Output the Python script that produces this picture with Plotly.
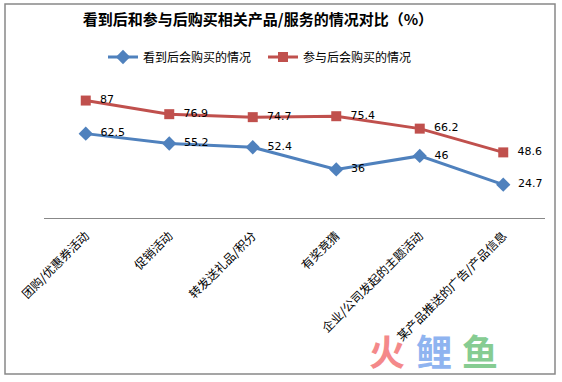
import plotly.graph_objects as go

categories = ["团购/优惠券活动", "促销活动", "转发送礼品/积分", "有奖竞猜",
              "企业/公司发起的主题活动", "某产品推送的广告/产品信息"]
seen_values = [62.5, 55.2, 52.4, 36, 46, 24.7]
joined_values = [87, 76.9, 74.7, 75.4, 66.2, 48.6]
series_names = ["看到后会购买的情况", "参与后会购买的情况"]
title_text = "看到后和参与后购买相关产品/服务的情况对比（%）"

W, H = 562, 382
L, R, T, B = 44, 545, 83, 218  # plot area pixel bounds
PAD = "\u00a0\u00a0"

fig = go.Figure()
fig.add_trace(go.Scatter(
    x=categories, y=seen_values, name=series_names[0],
    mode="lines+markers+text",
    line=dict(color="#4F81BD", width=3),
    marker=dict(symbol="diamond", size=11, color="#4F81BD"),
    text=[PAD + str(v) for v in seen_values], textposition="middle right",
    textfont=dict(family="DejaVu Sans", size=11, color="#000000"),
    cliponaxis=False,
))
fig.add_trace(go.Scatter(
    x=categories, y=joined_values, name=series_names[1],
    mode="lines+markers+text",
    line=dict(color="#C0504D", width=3),
    marker=dict(symbol="square", size=10, color="#C0504D"),
    text=[PAD + str(v) for v in joined_values], textposition="middle right",
    textfont=dict(family="DejaVu Sans", size=11, color="#000000"),
    cliponaxis=False,
))

fig.update_layout(
    width=W, height=H,
    margin=dict(l=L, r=W - R, t=T, b=H - B, autoexpand=False),
    paper_bgcolor="white", plot_bgcolor="white",
    title=dict(text="<b>" + title_text + "</b>", x=258 / W, xanchor="center",
               y=1 - 20 / H, yanchor="middle",
               font=dict(family="Noto Sans CJK SC", size=15, color="#000000")),
    legend=dict(orientation="h", x=263 / W, xanchor="center", xref="container",
                y=1 - 57 / H, yref="container", yanchor="middle",
                font=dict(family="Noto Sans CJK SC", size=12, color="#000000"),
                itemwidth=30, entrywidth=115, tracegroupgap=0),
    showlegend=True,
    xaxis=dict(type="category", range=[-0.5, 5.5], showgrid=False, showline=True,
               linecolor="#888888", linewidth=1, ticks="", tickangle=-45,
               ticklabelstandoff=5,
               tickfont=dict(family="Noto Sans CJK SC", size=12, color="#000000"),
               zeroline=False, automargin=False),
    yaxis=dict(range=[0, 100], showgrid=False, showline=False,
               showticklabels=False, zeroline=False, ticks="", automargin=False),
    shapes=[dict(type="rect", xref="paper", yref="paper",
                 x0=(5 - L) / (R - L), x1=(555 - L) / (R - L),
                 y0=-(374 - B) / (B - T), y1=(B - 4) / (B - T),
                 line=dict(color="#888888", width=1.5))],
)

wm = [("火", "#F4898A", 387), ("鲤", "#8FB4F0", 434), ("鱼", "#86CC92", 480)]
for ch, col, xp in wm:
    fig.add_annotation(text="<b>" + ch + "</b>", x=(xp - L) / (R - L), y=(B - 350) / (B - T),
                       xref="paper", yref="paper", showarrow=False,
                       font=dict(family="Noto Sans CJK SC", size=36, color=col),
                       xanchor="center", yanchor="middle")

fig.write_html("out.html", config={"displayModeBar": False},
               post_script="document.body.style.margin='0px';document.body.style.overflow='hidden';")
